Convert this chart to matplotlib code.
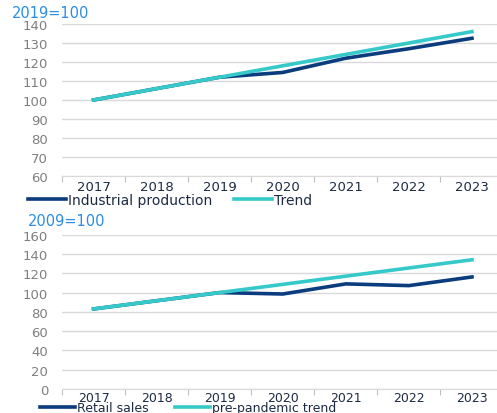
import matplotlib
matplotlib.use('Agg')
import matplotlib.pyplot as plt
import numpy as np

years = ['2017', '2018', '2019', '2020', '2021', '2022', '2023']

industrial = [100, 106, 112, 114.5, 122, 127, 132.5]
ip_trend = [100, 106, 112, 118, 124, 130, 136]

retail = [83, 91.5, 100, 98.5, 109, 107.2, 116.2]
retail_trend = [83, 91.5, 100, 108.5, 117, 125.5, 134]

NAVY = '#0b3c7d'
TEAL = '#35c9c9'
GRID = '#d9d9d9'
BLUE_T = '#2b8de6'
W, H = 497, 414

plt.rcParams['font.family'] = ['DejaVu Sans']

fig = plt.figure(figsize=(W / 100, H / 100), dpi=100)
ax1 = fig.add_axes([62 / W, 1 - 177 / H, 441.5 / W, 152 / H])
ax2 = fig.add_axes([62 / W, 1 - 390 / H, 441.5 / W, 154.3 / H])


def style(ax, ylim, step, pad=3, xsize=9.5):
    x = np.arange(len(years))
    ax.set_xlim(-0.5, len(years) - 0.5)
    ax.set_ylim(*ylim)
    ax.set_yticks(np.arange(ylim[0], ylim[1] + 1, step))
    ax.set_xticks(x)
    ax.set_xticklabels(years)
    ax.set_xticks(np.arange(-0.5, len(years), 1), minor=True)
    ax.tick_params(axis='x', which='major', length=0, pad=pad,
                   labelsize=xsize, labelcolor='#1d2a44')
    ax.tick_params(axis='x', which='minor', length=4, color='#bfbfbf', width=0.8)
    ax.tick_params(axis='y', length=0, pad=10, labelsize=9.5, labelcolor='#7f7f7f')
    ax.grid(axis='y', color=GRID, lw=1)
    ax.set_axisbelow(True)
    for s in ['top', 'right', 'left']:
        ax.spines[s].set_visible(False)
    ax.spines['bottom'].set_color('#d9d9d9')


x = np.arange(len(years))

style(ax1, (60, 140), 10)
l1, = ax1.plot(x, industrial, color=NAVY, lw=2.6, zorder=3)
l2, = ax1.plot(x, ip_trend, color=TEAL, lw=2.6, zorder=4)
fig.text(12 / W, 1 - 13 / H, '2019=100', color=BLUE_T, fontsize=10.5,
         va='center', ha='left')
fig.legend([l1, l2], ['Industrial production', 'Trend'],
           loc='center left', bbox_to_anchor=(28 / W, 1 - 201 / H), ncol=2,
           frameon=False, fontsize=10, handlelength=2.7, handletextpad=0.15,
           columnspacing=1.6, borderpad=0, borderaxespad=0, labelcolor='#1d2a44')

style(ax2, (0, 160), 20, pad=1.5, xsize=9)
l3, = ax2.plot(x, retail, color=NAVY, lw=2.6, zorder=3)
l4, = ax2.plot(x, retail_trend, color=TEAL, lw=2.6, zorder=4)
fig.text(28 / W, 1 - 221 / H, '2009=100', color=BLUE_T, fontsize=10.5,
         va='center', ha='left')
fig.legend([l3, l4], ['Retail sales', 'pre-pandemic trend'],
           loc='center left', bbox_to_anchor=(40 / W, 1 - 409 / H), ncol=2,
           frameon=False, fontsize=9, handlelength=2.8, handletextpad=0.15,
           columnspacing=2.1, borderpad=0, borderaxespad=0, labelcolor='#1d2a44')

fig.savefig('out.png', dpi=100)
